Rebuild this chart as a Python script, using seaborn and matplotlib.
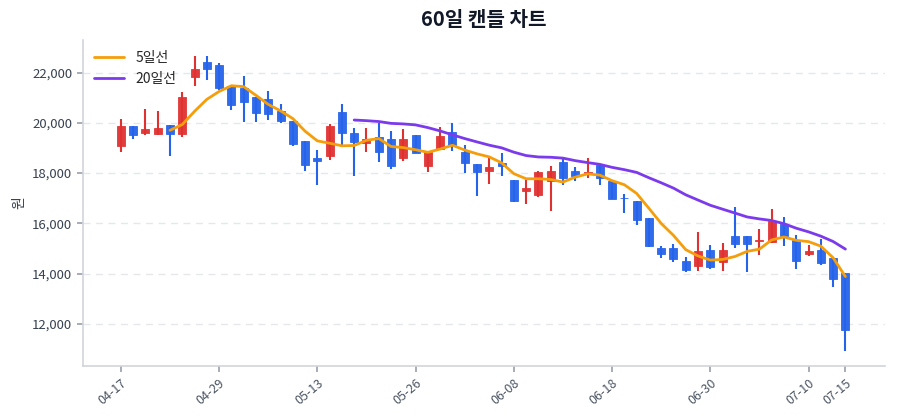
import numpy as np
import pandas as pd
import seaborn as sns
import matplotlib
matplotlib.use("Agg")
import matplotlib.pyplot as plt
from matplotlib.ticker import FuncFormatter

sns.set_theme(style="white")
plt.rcParams["font.family"] = ["Noto Sans CJK KR", "DejaVu Sans"]
plt.rcParams["axes.unicode_minus"] = False

# 60 trading days (MM-DD)
dates = [
    "04-17", "04-20", "04-21", "04-22", "04-23", "04-24", "04-27", "04-28", "04-29", "04-30",
    "05-04", "05-06", "05-07", "05-08", "05-11", "05-12", "05-13", "05-14", "05-15", "05-18",
    "05-19", "05-20", "05-21", "05-22", "05-26", "05-27", "05-28", "05-29", "06-01", "06-02",
    "06-04", "06-05", "06-08", "06-09", "06-10", "06-11", "06-12", "06-15", "06-16", "06-17",
    "06-18", "06-19", "06-22", "06-23", "06-24", "06-25", "06-26", "06-29", "06-30", "07-01",
    "07-02", "07-03", "07-06", "07-07", "07-08", "07-09", "07-10", "07-13", "07-14", "07-15",
]
opens = [
    19080, 19870, 19610, 19540, 19920, 19560, 21820, 22430, 22300, 21470,
    21380, 21020, 20940, 20490, 20080, 19270, 18620, 18660, 20420, 19590,
    19190, 19420, 19350, 18590, 19510, 18300, 18970, 19650, 18830, 18370,
    18080, 18420, 17730, 17290, 17130, 17690, 18460, 18100, 17970, 18330,
    17700, 17020, 16870, 16210, 15000, 15010, 14510, 14320, 14950, 14480,
    15500, 15500, 15300, 15250, 15970, 15320, 14770, 14920, 14610, 14020,
]
highs = [
    20150, 19880, 20540, 20470, 19930, 21220, 22670, 22670, 22400, 21490,
    21870, 21030, 21250, 20740, 20090, 19270, 18900, 19950, 20760, 19790,
    19790, 19990, 19660, 19750, 19520, 18860, 19850, 19990, 19120, 18370,
    18620, 18780, 17740, 17730, 18080, 18300, 18590, 18260, 18590, 18340,
    17710, 17170, 16880, 16210, 15100, 15180, 14680, 15650, 15120, 15210,
    16650, 15510, 15780, 16570, 16270, 15540, 15120, 15370, 14620, 14030,
]
lows = [
    18820, 19360, 19520, 19530, 18690, 19420, 21470, 21710, 21310, 20520,
    20050, 20030, 20120, 19990, 19060, 18100, 17510, 18530, 19120, 17900,
    18820, 18460, 18170, 18490, 18780, 18060, 18930, 18860, 18020, 17070,
    17570, 17900, 16830, 16760, 17040, 16510, 17510, 17670, 17800, 17510,
    16960, 16430, 15950, 15070, 14610, 14470, 14070, 14120, 14190, 14120,
    15010, 14080, 14750, 15210, 15080, 14190, 14720, 14350, 13450, 10900,
]
closes = [
    19870, 19510, 19770, 19800, 19560, 21020, 22140, 22150, 21370, 20700,
    20840, 20410, 20350, 20090, 19160, 18330, 18480, 19880, 19580, 19220,
    19360, 18830, 18300, 19360, 18790, 18850, 19480, 19060, 18400, 18040,
    18240, 18300, 16900, 17390, 18040, 18090, 17800, 17870, 18040, 17800,
    16980, 16990, 16140, 15080, 14790, 14600, 14150, 14890, 14260, 14920,
    15180, 15170, 15340, 16100, 15500, 14510, 14910, 14440, 13790, 11760,
]
tick_idx = [0, 8, 16, 24, 32, 40, 48, 56, 59]

UP = "#e03131"
DOWN = "#2563eb"
MA5_COLOR = "#f59e0b"
MA20_COLOR = "#7c3aed"

df = pd.DataFrame({"date": dates, "open": opens, "high": highs, "low": lows, "close": closes})
df["x"] = np.arange(len(df))
df["ma5"] = df["close"].rolling(5).mean()
df["ma20"] = df["close"].rolling(20).mean()
colors = np.where(df["close"] >= df["open"], UP, DOWN)

fig, ax = plt.subplots(figsize=(9, 4.2), dpi=100)
fig.subplots_adjust(left=0.092, right=0.983, bottom=0.129, top=0.905)

# wicks then bodies
ax.vlines(df["x"], df["low"], df["high"], colors=colors, linewidth=1.5, zorder=2)
body_bottom = np.minimum(df["open"], df["close"])
body_height = np.abs(df["close"] - df["open"])
ax.bar(df["x"], body_height, bottom=body_bottom, width=0.65, color=colors,
       edgecolor=colors, linewidth=0.6, alpha=0.95, zorder=3)

sns.lineplot(data=df, x="x", y="ma5", color=MA5_COLOR, linewidth=2, label="5일선", ax=ax, zorder=4)
sns.lineplot(data=df, x="x", y="ma20", color=MA20_COLOR, linewidth=2, label="20일선", ax=ax, zorder=4)

ax.set_xlim(-3.1, 62.2)
ax.set_ylim(10330, 23300)
ax.set_xticks(tick_idx)
ax.set_xticklabels([dates[i] for i in tick_idx], rotation=40, ha="right",
                   rotation_mode="anchor", fontsize=9, color="#4b5563")
ax.yaxis.set_major_formatter(FuncFormatter(lambda v, p: f"{int(v):,}"))
ax.set_yticks([12000, 14000, 16000, 18000, 20000, 22000])
ax.tick_params(axis="y", labelsize=9.5, colors="#374151", length=4, color="#9ca3af")
ax.tick_params(axis="x", length=4, color="#9ca3af", bottom=True)
ax.tick_params(axis="y", left=True)

ax.yaxis.grid(True, linestyle=(0, (5, 4)), color="#e5e7eb", linewidth=1)
ax.xaxis.grid(False)
for side in ["top", "right"]:
    ax.spines[side].set_visible(False)
for side in ["left", "bottom"]:
    ax.spines[side].set_color("#d1d5db")
    ax.spines[side].set_linewidth(1.2)

ax.set_xlabel("")
ax.set_ylabel("원", fontsize=10, color="#374151")
ax.set_title("60일 캔들 차트", fontsize=14.5, fontweight="bold", color="#111827", pad=10)

leg = ax.legend(loc="upper left", frameon=False, fontsize=10, handlelength=2.2,
                borderaxespad=0.4)

fig.savefig("out.png", dpi=100)
